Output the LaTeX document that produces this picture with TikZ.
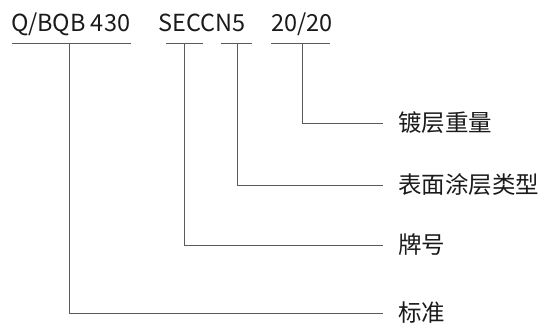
\documentclass[tikz,border=0pt]{standalone}
\usepackage{fontspec}
\setmainfont{Noto Sans CJK SC}
\definecolor{txt}{RGB}{26,26,26}
\definecolor{lncol}{RGB}{90,90,90}
\begin{document}
\begin{tikzpicture}[x=1pt,y=-1pt,
  code/.style={anchor=base west,inner sep=0pt,font=\fontsize{23.5}{28}\selectfont,text=txt},
  lbl/.style={anchor=west,inner xsep=15pt,inner ysep=0pt,font=\fontsize{23.5}{28}\selectfont,text=txt},
  ln/.style={draw=lncol,line width=1pt}]
\useasboundingbox (0,0) rectangle (545,327);
% top codes
\node[code] (c1) at (11,31) {Q/BQB 430};
\node[code] (c2) at (158,31) {SECCN5};
\node[code] (c3) at (271,31) {20/20};
% underline ends
\coordinate (u1a) at (12,43); \coordinate (u1b) at (131,43);
\coordinate (u2a) at (166,43); \coordinate (u2b) at (203,43);
\coordinate (u3a) at (221,43); \coordinate (u3b) at (252,43);
\coordinate (u4a) at (271,43); \coordinate (u4b) at (330,43);
\coordinate (m1) at (69,43);
\coordinate (m2) at (184,43);
\coordinate (m3) at (237,43);
\coordinate (m4) at (302,43);
\draw[ln] (u1a) -- (u1b);
\draw[ln] (u2a) -- (u2b);
\draw[ln] (u3a) -- (u3b);
\draw[ln] (u4a) -- (u4b);
% labels
\node[lbl] (l4) at (383,123) {镀层重量};
\node[lbl] (l3) at (383,185) {表面涂层类型};
\node[lbl] (l2) at (383,245) {牌号};
\node[lbl] (l1) at (383,313) {标准};
% connectors
\draw[ln] (m4) |- (l4.west);
\draw[ln] (m3) |- (l3.west);
\draw[ln] (m2) |- (l2.west);
\draw[ln] (m1) |- (l1.west);
\end{tikzpicture}
\end{document}
